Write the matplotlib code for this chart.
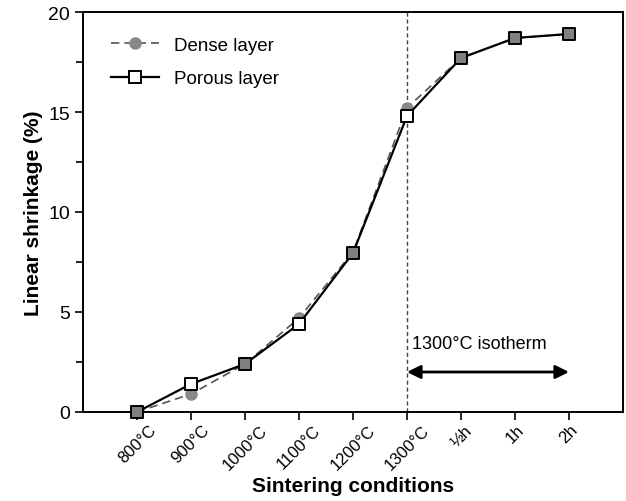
import matplotlib.pyplot as plt
import numpy as np

plt.rcParams['font.family'] = ['Liberation Sans', 'DejaVu Sans']

conditions = ['800°C', '900°C', '1000°C', '1100°C', '1200°C', '1300°C', '½h', '1h', '2h']
dense = [0.0, 0.9, 2.4, 4.7, 8.0, 15.2, 17.7, 18.7, 18.9]
porous = [0.0, 1.4, 2.4, 4.4, 7.95, 14.8, 17.7, 18.7, 18.9]


def plot():
    fig = plt.figure(figsize=(6.26, 5.02), dpi=100)
    ax = fig.add_axes([0.1326, 0.1773, 0.8626, 0.7968])
    x = np.arange(len(conditions))

    ax.plot(x, dense, color='#555555', ls=(0, (5, 3)), lw=1.2, marker='o', ms=8,
            mfc='#888888', mec='#888888', zorder=2, label='Dense layer', clip_on=False)
    ax.plot(x, porous, color='black', lw=1.6, zorder=3, clip_on=False)
    # squares are grey where both layers coincide
    same = np.abs(np.array(dense) - np.array(porous)) < 0.1
    faces = np.where(same, '#808080', 'white')
    ax.scatter(x, porous, marker='s', s=80, c=list(faces), edgecolors='black',
               linewidths=1.4, zorder=4, clip_on=False)
    ax.plot([], [], color='black', lw=1.6, marker='s', ms=8, mfc='white', mec='black',
            mew=1.4, label='Porous layer')

    ax.axvline(5, color='#444444', ls=(0, (3, 2)), lw=1, zorder=1)
    ax.annotate('', xy=(8, 2.0), xytext=(5, 2.0),
                arrowprops=dict(arrowstyle='<|-|>', color='black', lw=2,
                                mutation_scale=20, shrinkA=0, shrinkB=0))
    ax.text(5.1, 3.0, '1300°C isotherm', fontsize=13, va='bottom', ha='left')

    ax.set_xlim(-1, 9)
    ax.set_ylim(0, 20)
    ax.set_xticks(x)
    ax.set_xticklabels(conditions, rotation=45, ha='center', fontsize=12)
    ax.set_yticks([0, 5, 10, 15, 20])
    ax.set_yticks([2.5, 7.5, 12.5, 17.5], minor=True)
    ax.tick_params(axis='y', labelsize=14, length=6, width=1.2)
    ax.tick_params(axis='y', which='minor', length=5, width=1.2)
    ax.tick_params(axis='x', length=6, width=1.2, pad=1)
    for s in ax.spines.values():
        s.set_linewidth(1.4)

    ax.set_xlabel('Sintering conditions', fontsize=15, fontweight='bold', labelpad=3)
    ax.set_ylabel('Linear shrinkage (%)', fontsize=15, fontweight='bold')
    ax.legend(loc='upper left', frameon=False, fontsize=13.5, handlelength=2.6,
              labelspacing=0.85, bbox_to_anchor=(0.02, 0.98))

    plt.savefig('out.png', dpi=100)
    plt.close()


if __name__ == '__main__':
    plot()
